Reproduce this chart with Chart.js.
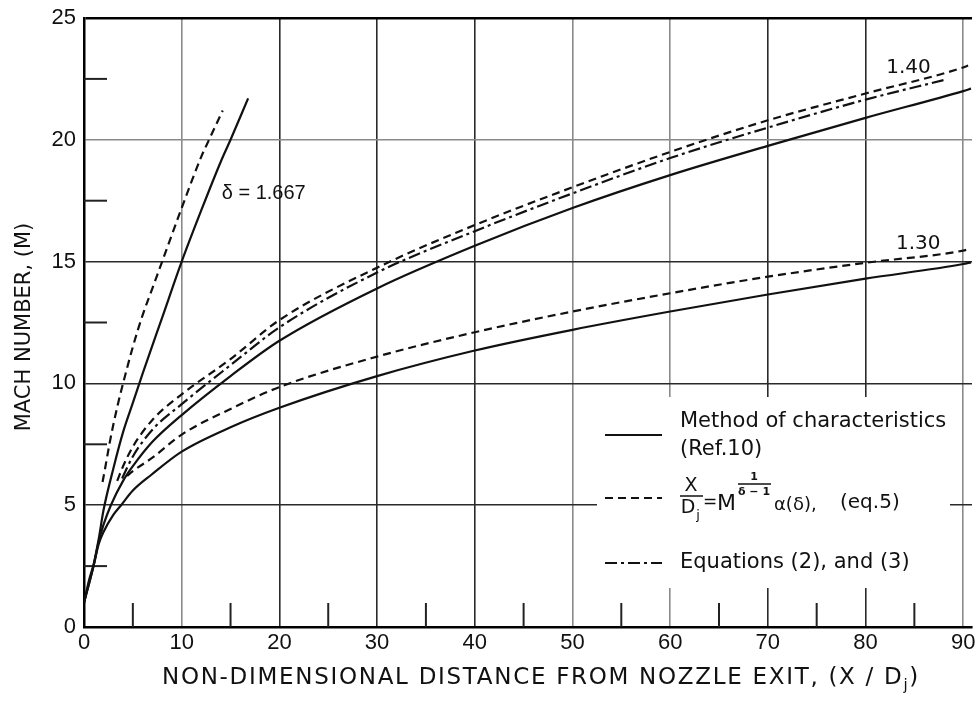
<!DOCTYPE html>
<html>
<head>
<meta charset="utf-8">
<script src="https://cdn.jsdelivr.net/npm/chart.js@4.4.1/dist/chart.umd.min.js"></script>
<style>
  html, body { margin: 0; padding: 0; background: #fff; }
  #mach { display: block; }
</style>
</head>
<body>
<canvas id="mach" width="980" height="704"></canvas>
<script>
const xTicks = [0, 10, 20, 30, 40, 50, 60, 70, 80, 90];
const yTicks = [0, 5, 10, 15, 20, 25];
const xMinor = [5, 15, 25, 35, 45, 55, 65, 75, 85];
const yMinor = [2.5, 7.5, 12.5, 17.5, 22.5];

// gamma = 1.667
const x167Moc = [0, 0.5, 1, 1.5, 2, 3, 4, 5, 6, 8, 10, 12, 14, 15, 16.8];
const m167Moc = [1.0, 1.9, 2.6, 3.6, 4.8, 6.5, 8.0, 9.2, 10.4, 12.7, 15.0, 17.1, 19.1, 20.0, 21.7];
const x167Eq5 = [1.9, 2.2, 2.6, 3, 3.5, 4, 5, 6, 7, 8, 10, 12, 12.8, 14.2];
const m167Eq5 = [5.95, 6.6, 7.5, 8.3, 9.2, 10.0, 11.5, 12.8, 13.9, 15.0, 17.2, 19.3, 20.0, 21.2];

// gamma = 1.40
const x140Moc = [0, 1, 1.5, 2, 2.75, 4, 5, 7, 10, 15, 20, 30, 40, 50, 60, 70, 80, 90, 90.8];
const m140Moc = [1.0, 2.55, 3.5, 4.2, 5.0, 6.0, 6.6, 7.6, 8.7, 10.3, 11.75, 13.9, 15.65, 17.2, 18.55, 19.75, 20.9, 22.0, 22.1];
const x140Eq5 = [3.4, 4, 5, 7, 10, 15, 20, 30, 40, 50, 60, 70, 80, 90, 90.5];
const m140Eq5 = [6.0, 6.6, 7.4, 8.5, 9.55, 11.0, 12.6, 14.75, 16.5, 18.05, 19.5, 20.8, 21.9, 22.97, 23.05];
const x140Eq23 = [3.9, 5, 7, 10, 15, 20, 30, 40, 50, 60, 70, 80, 88];
const m140Eq23 = [6.1, 7.0, 8.1, 9.15, 10.75, 12.3, 14.55, 16.25, 17.8, 19.25, 20.5, 21.65, 22.45];

// gamma = 1.30
const x130Moc = [0, 1, 1.5, 2, 3, 3.8, 5, 6.9, 10, 15, 20, 30, 40, 50, 60, 70, 80, 90, 90.8];
const m130Moc = [1.0, 2.55, 3.4, 3.9, 4.6, 5.0, 5.6, 6.25, 7.2, 8.2, 9.0, 10.3, 11.35, 12.2, 12.95, 13.65, 14.3, 14.9, 14.97];
const x130Eq5 = [4.4, 5, 7, 10, 15, 20, 30, 40, 50, 60, 70, 80, 90, 90.5];
const m130Eq5 = [6.2, 6.4, 6.95, 7.9, 8.95, 9.85, 11.1, 12.1, 12.95, 13.7, 14.38, 14.95, 15.45, 15.5];

const FONT = '"Liberation Sans", Arial, sans-serif';
const LETTER = '"DejaVu Sans", "Liberation Sans", sans-serif';
const INK = "#111";

const DASH_EQ5 = [8, 5];
const DASH_EQ23 = [12, 4, 3, 4];

function pts(xs, ys) {
  return xs.map((x, i) => ({ x: x, y: ys[i] }));
}

function curve(label, xs, ys, dash) {
  return {
    label: label,
    data: pts(xs, ys),
    borderColor: INK,
    borderWidth: 2.2,
    borderDash: dash,
    showLine: true,
    pointRadius: 0,
    cubicInterpolationMode: "monotone",
    fill: false,
  };
}

// minor ticks, blank legend panel, and all the lettering
const paperText = {
  id: "paperText",
  beforeDatasetsDraw(chart) {
    const { ctx, chartArea: a, scales: { x, y } } = chart;
    ctx.save();
    ctx.strokeStyle = "#222";
    ctx.lineWidth = 2;
    xMinor.forEach((v) => {
      const px = x.getPixelForValue(v);
      ctx.beginPath();
      ctx.moveTo(px, a.bottom);
      ctx.lineTo(px, a.bottom - 24);
      ctx.stroke();
    });
    yMinor.forEach((v) => {
      const py = y.getPixelForValue(v);
      ctx.beginPath();
      ctx.moveTo(a.left, py);
      ctx.lineTo(a.left + 23, py);
      ctx.stroke();
    });
    // legend sits on a white patch over the grid
    ctx.fillStyle = "#fff";
    ctx.fillRect(597, 397, 353, 191);
    ctx.restore();
  },
  afterDraw(chart) {
    const { ctx, scales: { x, y } } = chart;
    ctx.save();
    ctx.fillStyle = INK;
    ctx.strokeStyle = INK;
    ctx.textBaseline = "middle";

    // axis titles
    ctx.save();
    ctx.translate(25, 327);
    ctx.rotate(-Math.PI / 2);
    ctx.textAlign = "center";
    ctx.font = "21px " + LETTER;
    ctx.fillText("MACH NUMBER, (M)", 0, 0);
    ctx.restore();

    ctx.save();
    ctx.textAlign = "left";
    ctx.letterSpacing = "1.7px";
    const t1 = "NON-DIMENSIONAL DISTANCE FROM NOZZLE EXIT, (X / D";
    ctx.font = "15px " + LETTER;
    const wj = ctx.measureText("j").width;
    ctx.font = "23px " + LETTER;
    const w1 = ctx.measureText(t1).width;
    const w2 = ctx.measureText(")").width;
    let tx = 541 - (w1 + wj + w2) / 2;
    ctx.fillText(t1, tx, 678);
    tx += w1;
    ctx.font = "15px " + LETTER;
    ctx.fillText("j", tx, 686);
    tx += wj;
    ctx.font = "23px " + LETTER;
    ctx.fillText(")", tx, 678);
    ctx.restore();

    // curve labels
    ctx.textAlign = "left";
    ctx.font = "20px " + FONT;
    ctx.fillText("δ = 1.667", x.getPixelForValue(14.1), y.getPixelForValue(17.8));
    ctx.textAlign = "center";
    ctx.font = "20px " + LETTER;
    ctx.fillText("1.40", x.getPixelForValue(84.4), y.getPixelForValue(22.95));
    ctx.fillText("1.30", x.getPixelForValue(85.4), y.getPixelForValue(15.75));

    // legend
    const sample = (py, dash) => {
      ctx.save();
      ctx.lineWidth = 2.2;
      ctx.setLineDash(dash);
      ctx.beginPath();
      ctx.moveTo(605, py);
      ctx.lineTo(662, py);
      ctx.stroke();
      ctx.restore();
    };
    sample(435, []);
    sample(498, DASH_EQ5);
    sample(563, DASH_EQ23);

    ctx.textAlign = "left";
    ctx.font = "21px " + LETTER;
    ctx.fillText("Method of characteristics", 680, 422);
    ctx.fillText("(Ref.10)", 680, 450);
    ctx.fillText("Equations (2), and (3)", 680, 563);

    // X/Dj = M^(1/(δ-1)) α(δ), (eq.5)
    ctx.textAlign = "center";
    ctx.font = "19px " + LETTER;
    ctx.fillText("X", 691, 486);
    ctx.lineWidth = 1.5;
    ctx.beginPath();
    ctx.moveTo(680, 496);
    ctx.lineTo(703, 496);
    ctx.stroke();
    ctx.fillText("D", 688, 508);
    ctx.font = "13px " + LETTER;
    ctx.fillText("j", 698, 516);
    ctx.font = "17px " + LETTER;
    ctx.fillText("=", 710, 503);
    ctx.textAlign = "left";
    ctx.font = "22px " + LETTER;
    ctx.fillText("M", 717, 504);
    ctx.textAlign = "center";
    ctx.font = "bold 11px " + LETTER;
    ctx.fillText("1", 754, 477);
    ctx.lineWidth = 1.4;
    ctx.beginPath();
    ctx.moveTo(738, 484);
    ctx.lineTo(771, 484);
    ctx.stroke();
    ctx.fillText("δ − 1", 754, 492);
    ctx.textAlign = "left";
    ctx.font = "18px " + LETTER;
    ctx.fillText("α(δ),", 774, 505);
    ctx.font = "20px " + LETTER;
    ctx.fillText("(eq.5)", 840, 503);

    ctx.restore();
  },
};

function gridShade(v, greys) {
  return greys.indexOf(v) >= 0 ? "#8a8a8a" : "#2a2a2a";
}

new Chart(document.getElementById("mach"), {
  type: "scatter",
  data: {
    datasets: [
      curve("Method of characteristics, 1.667", x167Moc, m167Moc, []),
      curve("eq. 5, 1.667", x167Eq5, m167Eq5, DASH_EQ5),
      curve("Method of characteristics, 1.40", x140Moc, m140Moc, []),
      curve("eq. 5, 1.40", x140Eq5, m140Eq5, DASH_EQ5),
      curve("Equations (2), and (3), 1.40", x140Eq23, m140Eq23, DASH_EQ23),
      curve("Method of characteristics, 1.30", x130Moc, m130Moc, []),
      curve("eq. 5, 1.30", x130Eq5, m130Eq5, DASH_EQ5),
    ],
  },
  options: {
    responsive: false,
    animation: false,
    layout: { padding: { top: 18, right: 8, left: 0, bottom: 0 } },
    plugins: {
      legend: { display: false },
      tooltip: { enabled: false },
    },
    scales: {
      x: {
        type: "linear",
        min: 0,
        max: 90.9,
        afterBuildTicks: (s) => { s.ticks = xTicks.map((v) => ({ value: v })); },
        afterFit: (s) => { s.height = 77; s.paddingLeft = 0; s.paddingRight = 0; },
        ticks: {
          color: INK,
          padding: 5,
          maxRotation: 0,
          font: { size: 22, family: FONT, lineHeight: 1 },
        },
        grid: {
          drawTicks: false,
          color: (c) => gridShade(c.tick && c.tick.value, [10, 50, 60, 90]),
          lineWidth: 1.6,
        },
        border: { display: true, color: "#000", width: 2.5 },
      },
      y: {
        type: "linear",
        min: 0,
        max: 25,
        afterBuildTicks: (s) => { s.ticks = yTicks.map((v) => ({ value: v })); },
        afterFit: (s) => { s.width = 84; s.paddingTop = 0; s.paddingBottom = 0; },
        ticks: {
          color: INK,
          padding: 8,
          font: { size: 22, family: FONT, lineHeight: 1 },
        },
        grid: {
          drawTicks: false,
          color: (c) => (c.tick && c.tick.value === 25 ? "#000" : gridShade(c.tick && c.tick.value, [20])),
          lineWidth: (c) => (c.tick && c.tick.value === 25 ? 2.5 : 1.6),
        },
        border: { display: true, color: "#000", width: 2.5 },
      },
    },
  },
  plugins: [paperText],
});
</script>
</body>
</html>
